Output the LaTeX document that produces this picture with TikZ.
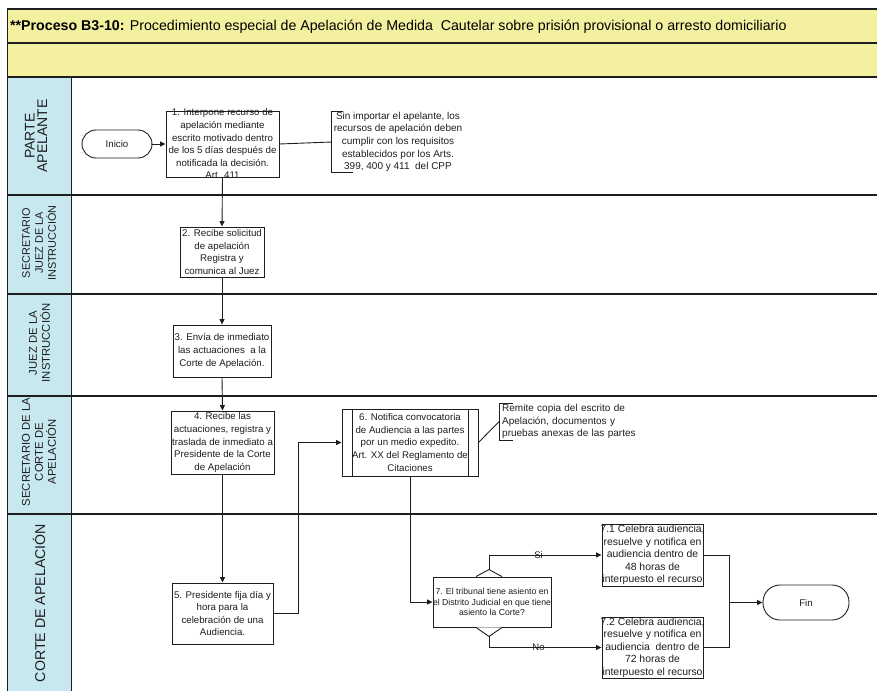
\documentclass[tikz,border=0pt]{standalone}
\usepackage{fontspec}
\setmainfont{Liberation Sans}
\usetikzlibrary{arrows.meta,calc}

\definecolor{bandyellow}{RGB}{243,240,160}
\definecolor{laneblue}{RGB}{200,232,240}
\definecolor{inkgray}{RGB}{30,30,30}

\tikzset{
  frameline/.style={draw=inkgray, line width=1.2pt},
  boxline/.style={draw=inkgray, line width=0.9pt},
  stepbox/.style={boxline, fill=white, inner sep=0pt},
  steptext/.style={align=center, inner sep=0pt, text=inkgray,
    font=\fontsize{9.7}{12.6}\selectfont},
  bigtext/.style={steptext, font=\fontsize{10.4}{12.5}\selectfont},
  notetext/.style={inner sep=0pt, text=inkgray,
    font=\fontsize{10}{12.6}\selectfont},
  terminal/.style={boxline, fill=white, rounded corners=14pt, inner sep=0pt,
    text=inkgray, font=\fontsize{9.7}{12}\selectfont},
  lanelabel/.style={rotate=90, align=center, inner sep=0pt, text=inkgray},
  flow/.style={draw=inkgray, line width=0.9pt, -{Triangle[length=5.5pt,width=5pt]}},
  link/.style={draw=inkgray, line width=0.9pt},
  branch/.style={inner sep=0pt, text=inkgray, font=\fontsize{9.5}{11}\selectfont}
}

\begin{document}
\begin{tikzpicture}[x=1pt,y=-1pt]
\useasboundingbox (0,0) rectangle (877,690);

% header bands and swimlane grid
\fill[bandyellow] (7.5,9) rectangle (880,77);
\fill[laneblue] (7.5,77) rectangle (71.5,695);
\draw[frameline] (880,9) -- (7.5,9) -- (7.5,695);
\draw[frameline] (7.5,43) -- (880,43);
\draw[frameline] (7.5,77) -- (880,77);
\foreach \yy in {195,294,396,514}
  \draw[frameline] (7.5,\yy) -- (880,\yy);
\draw[frameline] (71.5,77) -- (71.5,695);

% title
\node[anchor=base west, inner sep=0pt, text=black,
      font=\fontsize{14.2}{16}\selectfont] (title) at (10,30.5)
  {\textbf{**Proceso B3-10:} Procedimiento especial de Apelación de Medida\ \ Cautelar sobre prisión provisional o arresto domiciliario};

% lane names
\node[lanelabel, font=\fontsize{14}{12.5}\selectfont] (lane1) at (36,136) {PARTE\\APELANTE};
\node[lanelabel, font=\fontsize{10.9}{13}\selectfont] (lane2) at (39,243) {SECRETARIO\\JUEZ DE LA\\INSTRUCCIÓN};
\node[lanelabel, font=\fontsize{11.3}{13}\selectfont] (lane3) at (39.5,343) {JUEZ DE LA\\INSTRUCCIÓN};
\node[lanelabel, font=\fontsize{11.3}{13}\selectfont] (lane4) at (39,452) {SECRETARIO DE LA\\CORTE DE\\APELACIÓN};
\node[lanelabel, font=\fontsize{14.2}{16}\selectfont] (lane5) at (39,603) {CORTE DE APELACIÓN};

% start
\node[terminal, minimum width=70pt, minimum height=28pt] (ini) at (117,144) {Inicio};

% step 1
\node[stepbox, minimum width=113pt, minimum height=66pt] (s1) at (222.5,144) {};
\node[steptext] (s1t) at (s1.center) {1. Interpone recurso de\\apelación mediante\\escrito motivado dentro\\de los 5 días después de\\notificada la decisión.\\Art. 411};

% note on requirements
\node[notetext, align=center, minimum width=132pt, minimum height=60pt] (n1) at (398,142)
  {Sin importar el apelante, los\\recursos de apelación deben\\cumplir con los requisitos\\establecidos por los Arts.\\399, 400 y 411\ \ del CPP};
\draw[link] ($(n1.north west)+(11,0)$) -- (n1.north west) -- (n1.south west) -- ++(21,0);

% step 2
\node[stepbox, minimum width=84pt, minimum height=50pt] (s2) at (222,252) {};
\node[steptext] (s2t) at (s2.center) {2. Recibe solicitud\\de apelación\\Registra y\\comunica al Juez};

% step 3
\node[stepbox, minimum width=98pt, minimum height=52pt] (s3) at (222,351) {};
\node[steptext] (s3t) at (s3.center) {3. Envía de inmediato\\las actuaciones\ \ a la\\Corte de Apelación.};

% step 4
\node[stepbox, minimum width=103pt, minimum height=63pt] (s4) at (222.5,442.5) {};
\node[steptext] (s4t) at (s4.center) {4. Recibe las\\actuaciones, registra y\\traslada de inmediato a\\Presidente de la Corte\\de Apelación};

% step 5
\node[stepbox, minimum width=101pt, minimum height=61pt] (s5) at (222.5,613.5) {};
\node[steptext] (s5t) at (s5.center) {5. Presidente fija día y\\hora para la\\celebración de una\\Audiencia.};

% step 6 (predefined process)
\node[stepbox, minimum width=136pt, minimum height=67pt] (s6) at (410,442.5) {};
\draw[boxline] ($(s6.north west)+(11,0)$) -- ($(s6.south west)+(11,0)$);
\draw[boxline] ($(s6.north east)+(-10,0)$) -- ($(s6.south east)+(-10,0)$);
\node[steptext] (s6t) at (s6.center) {6. Notifica convocatoria\\de Audiencia a las partes\\por un medio expedito.\\Art. XX del Reglamento de\\Citaciones};

% note on documents
\node[notetext, align=left, anchor=north west, minimum height=37pt, text width=140pt,
      inner xsep=3pt] (n2) at (499,403)
  {Remite copia del escrito de\\Apelación, documentos y\\pruebas anexas de las partes};
\draw[link] ($(n2.north west)+(14,0)$) -- (n2.north west) -- (n2.south west) -- ++(14,0);

% decision 7
\node[stepbox, minimum width=118pt, minimum height=50pt] (d7) at (492,602) {};
\draw[boxline, fill=white] ($(d7.north)+(-16,0)$) -- ($(d7.north)+(-3,-7)$) -- ($(d7.north)+(10,0)$);
\draw[boxline, fill=white] ($(d7.south)+(-16,0)$) -- ($(d7.south)+(-3,9)$) -- ($(d7.south)+(10,0)$);
\coordinate (d7top) at ($(d7.north)+(-3,-7)$);
\coordinate (d7bot) at ($(d7.south)+(-3,9)$);
\node[steptext, font=\fontsize{8.7}{10.8}\selectfont] (d7t) at (d7.center) {7. El tribunal tiene asiento en\\el Distrito Judicial en que tiene\\asiento la Corte?};

% outcomes
\node[stepbox, minimum width=101pt, minimum height=62pt] (s71) at (652.5,555) {};
\node[bigtext] (s71t) at (s71.center) {7.1 Celebra audiencia,\\resuelve y notifica en\\audiencia dentro de\\48 horas de\\interpuesto el recurso};
\node[stepbox, minimum width=101pt, minimum height=61pt] (s72) at (652.5,647.5) {};
\node[bigtext] (s72t) at (s72.center) {7.2 Celebra audiencia,\\resuelve y notifica en\\audiencia\ \ dentro de\\72 horas de\\interpuesto el recurso};

% end
\node[terminal, minimum width=86pt, minimum height=35pt, rounded corners=17pt] (fin) at (806,602.5) {Fin};

% connectors
\draw[flow] (ini.east) -- (s1.west);
\draw[link] (s1.east) -- (n1.west);
\draw[flow] (s1.south) -- (s2.north);
\draw[flow] (s2.south) -- (s3.north);
\draw[flow] (s3.south) -- (s4.north);
\draw[flow] (s4.south) -- (s5.north);
\draw[flow] (s5.east) -- ++(25,0) |- (s6.west);
\draw[link] (s6.east) -- (n2.west);
\draw[flow] (s6.south) |- (d7.west);
\draw[flow] (d7top) |- (s71.west) node[branch, pos=0.72] (lsi) {Si};
\draw[flow] (d7bot) |- (s72.west) node[branch, pos=0.72] (lno) {No};
\coordinate (join) at (729,602.5);
\draw[link] (s71.east) -| (join);
\draw[link] (s72.east) -| (join);
\draw[flow] (join) -- (fin.west);

\end{tikzpicture}
\end{document}
